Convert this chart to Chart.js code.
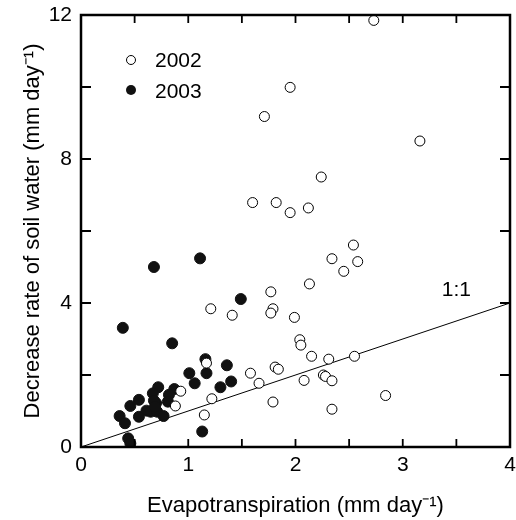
<!DOCTYPE html>
<html>
<head>
<meta charset="utf-8">
<script src="https://cdn.jsdelivr.net/npm/chart.js@4.4.0/dist/chart.umd.min.js"></script>
<style>
    html, body { margin: 0; padding: 0; background: #fff; }
</style>
</head>
<body>
<canvas id="chart" width="516" height="520"></canvas>
<script>
// 2002 (open circles)
const et2002 = [2.73, 1.95, 1.71, 3.16, 2.24, 1.60, 1.82, 1.95, 2.12, 2.54, 2.34, 2.58, 2.45, 2.13,
    1.77, 1.21, 1.41, 1.79, 1.77, 1.99, 2.04, 2.05, 2.15, 2.31, 2.55, 1.17, 1.81, 1.84, 1.58,
    1.66, 2.08, 2.26, 2.28, 2.34, 2.84, 1.79, 2.34, 1.22, 1.15, 0.93, 0.88];
const dec2002 = [11.85, 9.99, 9.18, 8.50, 7.50, 6.79, 6.79, 6.51, 6.64, 5.61, 5.23, 5.15, 4.88, 4.53,
    4.31, 3.84, 3.66, 3.84, 3.72, 3.60, 2.98, 2.83, 2.52, 2.44, 2.52, 2.33, 2.22, 2.16, 2.05,
    1.77, 1.85, 2.00, 1.96, 1.84, 1.43, 1.25, 1.05, 1.34, 0.89, 1.55, 1.14];

// 2003 (filled circles)
const et2003 = [1.11, 0.68, 1.49, 0.39, 0.85, 1.16, 1.36, 1.01, 1.17, 1.06, 1.40, 1.30, 0.72, 0.67,
    0.87, 0.82, 0.54, 0.46, 0.70, 0.81, 0.61, 0.65, 0.71, 0.54, 0.77, 0.36, 0.41, 0.44, 0.46,
    1.13, 0.68, 0.69];
const dec2003 = [5.24, 5.00, 4.11, 3.31, 2.88, 2.44, 2.27, 2.05, 2.05, 1.77, 1.82, 1.66, 1.66, 1.49,
    1.61, 1.45, 1.31, 1.14, 1.22, 1.26, 1.01, 0.98, 0.98, 0.84, 0.86, 0.86, 0.66, 0.24, 0.10,
    0.43, 1.29, 1.12];

// 1:1 reference line
const lineX = [0, 4];

const xLabelled = [0, 1, 2, 3, 4];
const yLabelled = [0, 4, 8, 12];

const FONT = "'Liberation Sans', Arial, sans-serif";

const toPoints = (xs, ys) => xs.map((x, i) => ({ x: x, y: ys[i] }));

// Frame, inward ticks, legend and the 1:1 label
const framePlugin = {
    id: 'frame',
    afterDatasetsDraw(chart) {
        const { ctx, chartArea: a, scales } = chart;
        const sx = scales.x, sy = scales.y;
        ctx.save();
        ctx.strokeStyle = '#000';

        ctx.lineWidth = 1.8;
        ctx.beginPath();
        sx.ticks.forEach(t => {
            const px = sx.getPixelForValue(t.value);
            ctx.moveTo(px, a.bottom); ctx.lineTo(px, a.bottom - 8);
            ctx.moveTo(px, a.top); ctx.lineTo(px, a.top + 8);
        });
        sy.ticks.forEach(t => {
            const py = sy.getPixelForValue(t.value);
            ctx.moveTo(a.left, py); ctx.lineTo(a.left + 10, py);
            ctx.moveTo(a.right, py); ctx.lineTo(a.right - 10, py);
        });
        ctx.stroke();

        ctx.lineWidth = 2.5;
        ctx.strokeRect(a.left, a.top, a.right - a.left, a.bottom - a.top);

        // legend
        ctx.lineWidth = 1;
        ctx.beginPath();
        ctx.arc(131, 60, 4.5, 0, Math.PI * 2);
        ctx.fillStyle = '#fff';
        ctx.fill();
        ctx.stroke();
        ctx.beginPath();
        ctx.arc(131, 90, 5, 0, Math.PI * 2);
        ctx.fillStyle = '#111';
        ctx.fill();

        ctx.fillStyle = '#000';
        ctx.font = '21px ' + FONT;
        ctx.textBaseline = 'middle';
        ctx.textAlign = 'left';
        ctx.fillText('2002', 155, 61);
        ctx.fillText('2003', 155, 92);

        // 1:1 label
        ctx.textAlign = 'center';
        ctx.fillText('1:1', sx.getPixelForValue(3.5), sy.getPixelForValue(4.35));
        ctx.restore();
    }
};

const hiddenGrid = (len) => ({
    display: true,
    drawOnChartArea: false,
    drawTicks: true,
    tickLength: len,
    color: 'rgba(0,0,0,0)',
    tickColor: 'rgba(0,0,0,0)'
});

new Chart(document.getElementById('chart'), {
    type: 'scatter',
    data: {
        datasets: [
            {
                label: '2002',
                data: toPoints(et2002, dec2002),
                pointRadius: 5,
                backgroundColor: '#fff',
                borderColor: '#000',
                borderWidth: 1
            },
            {
                label: '2003',
                data: toPoints(et2003, dec2003),
                pointRadius: 5.5,
                backgroundColor: '#111',
                borderColor: '#111',
                borderWidth: 1
            },
            {
                label: '1:1',
                type: 'line',
                data: toPoints(lineX, lineX),
                borderColor: '#000',
                borderWidth: 1,
                pointRadius: 0,
                fill: false
            }
        ]
    },
    options: {
        responsive: false,
        animation: false,
        events: [],
        layout: { autoPadding: false, padding: { left: 0, right: 6, top: 15, bottom: 0 } },
        plugins: {
            legend: { display: false },
            tooltip: { enabled: false }
        },
        scales: {
            x: {
                type: 'linear',
                min: 0,
                max: 4,
                grid: hiddenGrid(6),
                border: { display: false },
                afterFit: s => { s.height = 73; },
                ticks: {
                    stepSize: 0.5,
                    autoSkip: false,
                    maxRotation: 0,
                    padding: 0,
                    color: '#000',
                    font: { size: 21, family: FONT },
                    callback: v => xLabelled.includes(v) ? v : ''
                },
                title: {
                    display: true,
                    text: 'Evapotranspiration (mm day⁻¹)',
                    color: '#000',
                    font: { size: 22, family: FONT },
                    padding: { top: 0, bottom: 1 }
                }
            },
            y: {
                type: 'linear',
                min: 0,
                max: 12,
                grid: hiddenGrid(9),
                border: { display: false },
                afterFit: s => { s.width = 81; },
                ticks: {
                    stepSize: 2,
                    autoSkip: false,
                    padding: 0,
                    color: '#000',
                    font: { size: 21, family: FONT },
                    callback: v => yLabelled.includes(v) ? v : ''
                },
                title: {
                    display: true,
                    text: 'Decrease rate of soil water (mm day⁻¹)',
                    color: '#000',
                    font: { size: 22, family: FONT },
                    padding: { top: 20, bottom: 0 }
                }
            }
        }
    },
    plugins: [framePlugin]
});
</script>
</body>
</html>
